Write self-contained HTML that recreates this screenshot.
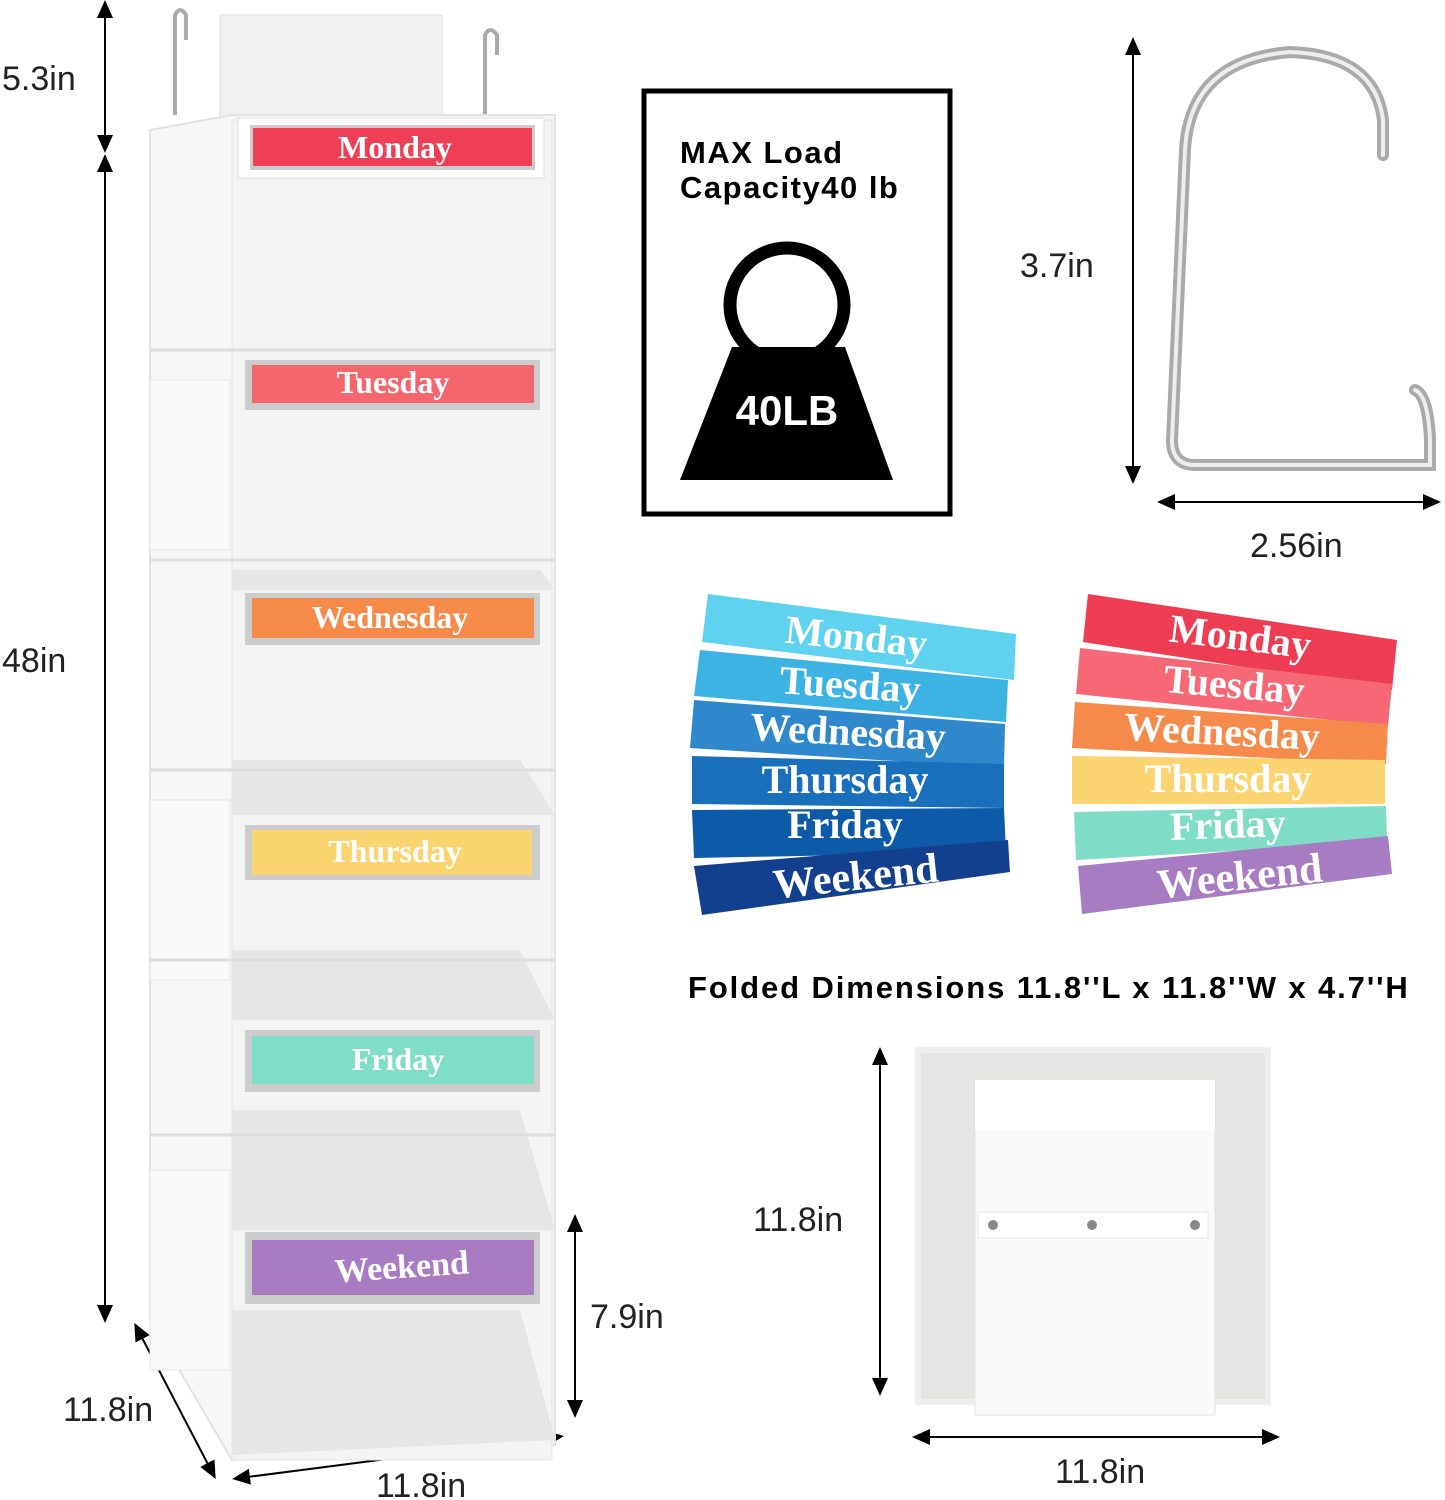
<!DOCTYPE html>
<html><head><meta charset="utf-8"><style>
html,body{margin:0;padding:0;background:#fff;}
svg{display:block}
text{font-family:"Liberation Sans",sans-serif;}
.s{font-family:"Liberation Serif",serif;font-weight:bold;fill:#fff;}
</style></head><body>
<svg width="1445" height="1500" viewBox="0 0 1445 1500" xmlns="http://www.w3.org/2000/svg">
<defs>
<marker id="a" markerWidth="10" markerHeight="10" refX="5" refY="5" orient="auto-start-reverse"><path d="M0,1 L9,5 L0,9 Z" fill="#000"/></marker>
</defs>
<rect width="1445" height="1500" fill="#fff"/>
<g stroke="#000" stroke-width="2" fill="none">
<line x1="105" y1="8" x2="105" y2="145" marker-start="url(#a)" marker-end="url(#a)"/>
<line x1="105" y1="162" x2="105" y2="1315" marker-start="url(#a)" marker-end="url(#a)"/>
<line x1="575" y1="1222" x2="575" y2="1410" marker-start="url(#a)" marker-end="url(#a)"/>
<line x1="138" y1="1330" x2="212" y2="1472" marker-start="url(#a)" marker-end="url(#a)"/>
<line x1="240" y1="1478" x2="556" y2="1437" marker-start="url(#a)" marker-end="url(#a)"/>
<line x1="1133" y1="45" x2="1133" y2="476" marker-start="url(#a)" marker-end="url(#a)"/>
<line x1="1165" y1="502" x2="1433" y2="502" marker-start="url(#a)" marker-end="url(#a)"/>
<line x1="880" y1="1055" x2="880" y2="1388" marker-start="url(#a)" marker-end="url(#a)"/>
<line x1="920" y1="1437" x2="1272" y2="1437" marker-start="url(#a)" marker-end="url(#a)"/>
</g>
<g font-size="34" fill="#222">
<text x="2" y="90">5.3in</text>
<text x="2" y="672">48in</text>
<text x="590" y="1328">7.9in</text>
<text x="63" y="1421">11.8in</text>
<text x="376" y="1497">11.8in</text>
<text x="1020" y="277">3.7in</text>
<text x="1250" y="557">2.56in</text>
<text x="753" y="1231">11.8in</text>
<text x="1055" y="1483">11.8in</text>
</g>
<rect x="220" y="15" width="222" height="110" fill="#f1f1f1" stroke="#ddd"/>
<path d="M175,115 L175,15 Q180,5 186,15 L186,40 M485,115 L485,35 Q490,25 497,35 L497,55" stroke="#aaa" stroke-width="4" fill="none"/>
<path d="M150,130 L232,115 L555,115 L555,1445 L232,1460 L150,1320 Z" fill="#f7f7f7" stroke="#e2e2e2" stroke-width="2"/>
<rect x="232" y="120" width="320" height="1340" fill="#f4f4f4" stroke="#e5e5e5"/>
<g fill="#e6e6e6">
<path d="M232,570 L540,570 L555,590 L232,590 Z"/>
<path d="M232,760 L520,760 L555,815 L232,815 Z"/>
<path d="M232,950 L520,950 L555,1020 L232,1020 Z"/>
<path d="M232,1110 L520,1110 L555,1230 L232,1230 Z"/>
<path d="M232,1310 L520,1310 L555,1440 L232,1455 Z"/>
</g>
<g fill="#fafafa" stroke="#e4e4e4">
<rect x="150" y="380" width="80" height="170"/>
<rect x="150" y="800" width="80" height="180"/>
<rect x="150" y="1170" width="80" height="200"/>
</g>
<g stroke="#ddd" stroke-width="3">
<line x1="150" y1="350" x2="555" y2="350"/><line x1="150" y1="560" x2="555" y2="560"/>
<line x1="150" y1="770" x2="555" y2="770"/><line x1="150" y1="960" x2="555" y2="960"/>
<line x1="150" y1="1135" x2="555" y2="1135"/>
</g>
<g>
<rect x="238" y="118" width="306" height="60" fill="#fff" stroke="#ddd"/>
<rect x="250" y="125" width="285" height="45" fill="#ccc"/><rect x="253" y="128" width="279" height="38" fill="#ef3f56"/>
<text class="s" x="395" y="158" font-size="32" text-anchor="middle">Monday</text>
<rect x="245" y="360" width="295" height="50" fill="#ccc"/><rect x="252" y="365" width="282" height="38" fill="#f5656e"/>
<text class="s" x="393" y="393" font-size="32" text-anchor="middle">Tuesday</text>
<rect x="245" y="593" width="295" height="52" fill="#ccc"/><rect x="252" y="598" width="282" height="40" fill="#f58a49"/>
<text class="s" x="390" y="628" font-size="32" text-anchor="middle">Wednesday</text>
<rect x="245" y="825" width="295" height="55" fill="#ccc"/><rect x="252" y="830" width="280" height="45" fill="#fad46f"/>
<text class="s" x="395" y="862" font-size="32" text-anchor="middle">Thursday</text>
<rect x="245" y="1030" width="295" height="62" fill="#ccc"/><rect x="252" y="1036" width="282" height="48" fill="#80ddc7"/>
<text class="s" x="398" y="1070" font-size="32" text-anchor="middle">Friday</text>
<rect x="245" y="1232" width="295" height="72" fill="#ccc"/><rect x="252" y="1240" width="282" height="55" fill="#a87bc3"/>
<text class="s" x="402" y="1278" font-size="34" text-anchor="middle" transform="rotate(-4 402 1270)">Weekend</text>
</g>
<rect x="644" y="91" width="306" height="423" fill="#fff" stroke="#000" stroke-width="5"/>
<text x="680" y="163" font-size="31" font-weight="bold" fill="#000" letter-spacing="1.5">MAX Load</text>
<text x="680" y="198" font-size="31" font-weight="bold" fill="#000" letter-spacing="1.5">Capacity40 lb</text>
<circle cx="787" cy="305" r="57" fill="none" stroke="#000" stroke-width="13"/>
<path d="M732,347 L845,347 L893,480 L680,480 Z" fill="#000"/>
<text x="787" y="425" font-size="42" font-weight="bold" fill="#fff" text-anchor="middle">40LB</text>
<path d="M1383,155 L1383,120 Q1375,55 1290,52 Q1190,60 1185,150 L1172,440 Q1172,465 1195,465 L1430,465 L1430,440 Q1428,395 1415,390" stroke="#aaa" stroke-width="12" fill="none" stroke-linecap="round"/>
<path d="M1383,155 L1383,120 Q1375,55 1290,52 Q1190,60 1185,150 L1172,440 Q1172,465 1195,465 L1430,465 L1430,440 Q1428,395 1415,390" stroke="#eee" stroke-width="4" fill="none" stroke-linecap="round"/>
<g>
<polygon points="708,594 1016,634 1014,680 702,642" fill="#5fd2f0"/>
<text class="s" x="856" y="650" font-size="40" text-anchor="middle" transform="rotate(6 856 640)">Monday</text>
<polygon points="700,650 1008,680 1006,722 694,696" fill="#3cb3e3"/>
<text class="s" x="850" y="698" font-size="40" text-anchor="middle" transform="rotate(4 850 688)">Tuesday</text>
<polygon points="694,700 1005,724 1004,768 690,748" fill="#2f88cc"/>
<text class="s" x="848" y="745" font-size="40" text-anchor="middle" transform="rotate(3 848 735)">Wednesday</text>
<polygon points="692,756 1004,764 1004,808 692,804" fill="#1a6fbb"/>
<text class="s" x="845" y="793" font-size="40" text-anchor="middle">Thursday</text>
<polygon points="692,810 1004,808 1006,852 694,858" fill="#0d5aa8"/>
<text class="s" x="845" y="838" font-size="40" text-anchor="middle">Friday</text>
<polygon points="694,866 1008,840 1010,872 702,915" fill="#133f8f"/>
<text class="s" x="856" y="890" font-size="42" text-anchor="middle" transform="rotate(-6 856 880)">Weekend</text>
</g>
<g>
<polygon points="1088,594 1397,640 1392,690 1083,642" fill="#ee3c52"/>
<text class="s" x="1240" y="650" font-size="40" text-anchor="middle" transform="rotate(7 1240 640)">Monday</text>
<polygon points="1080,648 1392,684 1388,726 1076,694" fill="#f76876"/>
<text class="s" x="1234" y="698" font-size="40" text-anchor="middle" transform="rotate(5 1234 688)">Tuesday</text>
<polygon points="1075,702 1388,724 1386,764 1072,748" fill="#f58a4b"/>
<text class="s" x="1222" y="745" font-size="40" text-anchor="middle" transform="rotate(3 1222 735)">Wednesday</text>
<polygon points="1072,756 1385,760 1385,804 1072,804" fill="#fbd471"/>
<text class="s" x="1228" y="792" font-size="40" text-anchor="middle">Thursday</text>
<polygon points="1074,812 1386,806 1387,842 1076,860" fill="#7fdcc6"/>
<text class="s" x="1228" y="838" font-size="40" text-anchor="middle" transform="rotate(-2 1228 830)">Friday</text>
<polygon points="1078,866 1388,836 1392,874 1082,914" fill="#a87cc2"/>
<text class="s" x="1240" y="890" font-size="42" text-anchor="middle" transform="rotate(-6 1240 880)">Weekend</text>
</g>
<text x="688" y="998" font-size="31" font-weight="bold" fill="#000" letter-spacing="1.9">Folded Dimensions 11.8''L x 11.8''W x 4.7''H</text>
<rect x="918" y="1050" width="350" height="352" fill="#e5e5e3" stroke="#eee" stroke-width="6"/>
<rect x="975" y="1080" width="240" height="335" fill="#fafafa" stroke="#e2e2e2"/>
<rect x="975" y="1080" width="240" height="50" fill="#fff"/>
<rect x="978" y="1212" width="230" height="26" fill="#fff" stroke="#e6e6e6"/>
<circle cx="993" cy="1225" r="5" fill="#888"/><circle cx="1092" cy="1225" r="5" fill="#888"/><circle cx="1195" cy="1225" r="5" fill="#888"/>
</svg>
</body></html>
